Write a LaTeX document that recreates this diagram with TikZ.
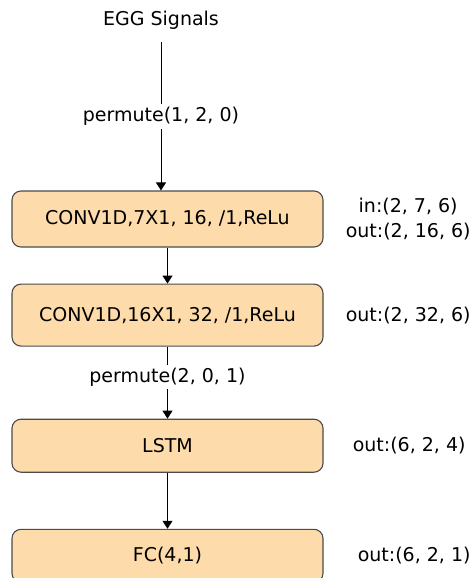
\documentclass[tikz,border=0pt]{standalone}
\usepackage{fontspec}
\setmainfont{DejaVu Sans}
\usetikzlibrary{positioning,arrows.meta}

\definecolor{layerfill}{RGB}{253,219,170}
\definecolor{layerdraw}{RGB}{75,75,75}

\tikzset{
    layer/.style={draw=layerdraw, fill=layerfill, rounded corners=9pt, line width=1.1pt,
        minimum width=311pt, minimum height=56pt, inner sep=0pt},
    dims/.style={inner sep=1pt, align=center},
    flow/.style={-{Triangle[width=10pt,length=8pt]}, line width=1pt},
}

\begin{document}
\begin{tikzpicture}[x=1pt, y=1pt, font={\fontsize{19}{25}\selectfont}]
    \useasboundingbox (0,0) rectangle (474,-578);
    \node [dims] (egg) at (161,-20) {EGG Signals};
    \node [layer] (conv1) at (167.5,-219) {CONV1D,7X1, 16, /1,ReLu};
    \node [layer, below=36pt of conv1, minimum height=62pt] (conv2) {CONV1D,16X1, 32, /1,ReLu};
    \node [layer, below=72pt of conv2, minimum height=53pt] (lstm) {LSTM};
    \node [layer, below=56pt of lstm, minimum height=53pt] (fc) {FC(4,1)};

    % tensor shapes next to each layer
    \node [dims, right=21pt of conv1] (s_conv1) {in:(2, 7, 6)\\out:(2, 16, 6)};
    \node [dims, right=21pt of conv2] (s_conv2) {out:(2, 32, 6)};
    \node [dims, right=28pt of lstm] (s_lstm) {out:(6, 2, 4)};
    \node [dims, right=33pt of fc] (s_fc) {out:(6, 2, 1)};

    \draw [flow] (egg.south) ++(0,-12pt) coordinate (egg_out) -- (egg_out |- conv1.north)
        node [pos=0.5, fill=white, inner sep=3pt] (perm1) {permute(1, 2, 0)};
    \draw [flow] (conv1) -- (conv2);
    \draw [flow] (conv2) -- (lstm)
        node [pos=0.42, fill=white, inner sep=3pt] (perm2) {permute(2, 0, 1)};
    \draw [flow] (lstm) -- (fc);
\end{tikzpicture}
\end{document}
